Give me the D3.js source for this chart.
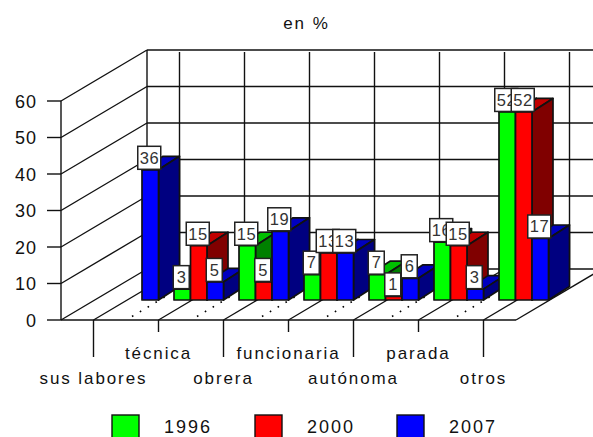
<!DOCTYPE html>
<html><head><meta charset="utf-8">
<script src="https://cdnjs.cloudflare.com/ajax/libs/d3/7.8.5/d3.min.js"></script>
<style>html,body{margin:0;padding:0;background:#fff;overflow:hidden}svg{display:block}
text{font-family:"Liberation Sans",Arial,sans-serif;fill:#111}</style></head><body>
<svg id="c" width="593" height="437"></svg>
<script>
const title = "en %";
const categories = ["sus labores","técnica","obrera","funcionaria","autónoma","parada","otros"];
const series = ["1996","2000","2007"];
const v1996 = [null,3,15,7,7,16,52];
const v2000 = [null,15,5,13,1,15,52];
const v2007 = [36,5,19,13,6,3,17];
const yTicks = [0,10,20,30,40,50,60];
const faceColors = ["#00ff00","#ff0000","#0000ff"];
const topColors = ["#00c000","#c00000","#0000c0"];
const sideColors = ["#008000","#800000","#000080"];
const values = [v1996,v2000,v2007];

const DX=86, DY=51, BDX=21, BDY=13.5, INK="#111", LW=1.4;
const svg=d3.select("#c");
const x=d3.scaleBand().domain(categories).range([61,516]);
const slot=d3.scaleBand().domain(series).range([48,97.5]);
const y=d3.scaleLinear().domain([0,60]).range([320,101]);
const yBar=d3.scaleLinear().domain([0,60]).range([300,83]);
const ln=(g,x1,y1,x2,y2)=>g.append("line").attr("x1",x1).attr("y1",y1).attr("x2",x2).attr("y2",y2)
  .attr("stroke",INK).attr("stroke-width",LW);
const xL=61,xR=516;

svg.append("text").attr("x",306.5).attr("y",29).attr("text-anchor","middle")
  .attr("font-size",17).attr("letter-spacing",2).text(title);

const grid=svg.append("g");
yTicks.forEach(t=>{
  ln(grid,xL+DX,y(t)-DY,xR+DX,y(t)-DY);
  ln(grid,xL,y(t),xL+DX,y(t)-DY);
  ln(grid,47,y(t),xL,y(t));
});
ln(grid,xL,y(0),xL,y(60));
ln(grid,xL+DX,y(0)-DY,xL+DX,y(60)-DY);
ln(grid,xR,y(0),xR+DX,y(0)-DY);
ln(grid,xL,y(0),xR,y(0));
categories.forEach((c,i)=>{
  const m=x(c)+x.bandwidth()/2;
  ln(grid,m,y(0),m+DX,y(0)-DY);
  ln(grid,m+DX,y(0)-DY,m+DX,y(60)-DY+2);
  ln(grid,m,y(0),m,y(0)+(i%2?12:37));
  if(i<categories.length-1){
    const e=x(c)+x.bandwidth();
    grid.append("line").attr("x1",e+6).attr("y1",y(0)-3.5).attr("x2",e+DX*0.45).attr("y2",y(0)-DY*0.45)
      .attr("stroke","#000").attr("stroke-width",1.6).attr("stroke-dasharray","1.6,7.5");
  }
  svg.append("text").attr("x",m).attr("y",i%2?359:384).attr("text-anchor","middle")
    .attr("font-size",17).attr("letter-spacing",1.9).text(c);
});
yTicks.forEach(t=>{
  svg.append("text").attr("x",37).attr("y",y(t)+6.5).attr("text-anchor","end")
    .attr("font-size",18).attr("letter-spacing",1).text(t);
});

const bars=svg.append("g"), labels=svg.append("g");
categories.forEach((c,i)=>{
  series.forEach((s,k)=>{
    const val=values[k][i];
    if(val==null) return;
    const x0=x(c)+slot(s), x1=x0+slot.bandwidth(), yt=yBar(val), yb=yBar(0);
    const poly=(pts,fill)=>bars.append("polygon").attr("points",pts.join(" "))
      .attr("fill",fill).attr("stroke",INK).attr("stroke-width",LW+.3).attr("stroke-linejoin","round");
    poly([[x0,yt],[x1,yt],[x1+BDX,yt-BDY],[x0+BDX,yt-BDY]],topColors[k]);
    poly([[x1,yt],[x1+BDX,yt-BDY],[x1+BDX,yb-BDY],[x1,yb]],sideColors[k]);
    poly([[x0,yt],[x1,yt],[x1,yb],[x0,yb]],faceColors[k]);
  });
});
categories.forEach((c,i)=>{
  series.forEach((s,k)=>{
    const val=values[k][i];
    if(val==null) return;
    const cx=x(c)+slot(s)+slot.bandwidth()/2-1, yt=yBar(val);
    const w=String(val).length>1?23:16, h=23;
    labels.append("rect").attr("x",cx-w/2).attr("y",yt-h-.5).attr("width",w).attr("height",h)
      .attr("fill","#fff").attr("stroke","#222").attr("stroke-width",1.5);
    labels.append("text").attr("x",cx+.3).attr("y",yt-h/2+5.3).attr("text-anchor","middle")
      .attr("font-size",16.5).attr("letter-spacing",.5).attr("fill","#333").style("fill","#333").text(val);
  });
});

const legX=[112,255,397];
series.forEach((s,k)=>{
  svg.append("rect").attr("x",legX[k]).attr("y",415).attr("width",27).attr("height",26)
    .attr("fill",faceColors[k]).attr("stroke",INK).attr("stroke-width",1.4);
  svg.append("text").attr("x",legX[k]+52).attr("y",433).attr("font-size",18).attr("letter-spacing",2).text(s);
});
</script></body></html>
